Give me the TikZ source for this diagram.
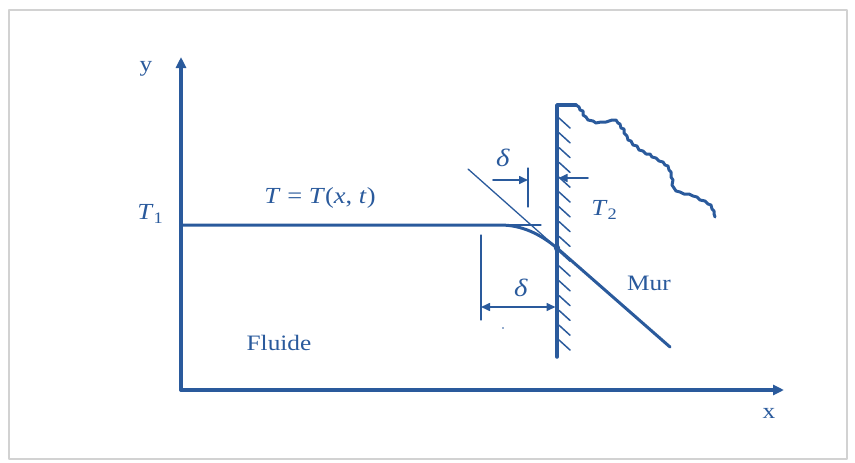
\documentclass[tikz,border=0pt]{standalone}
\usepackage{fontspec}
\setmainfont{Liberation Serif}[FakeStretch=1.15]
\usetikzlibrary{arrows.meta}
\definecolor{ink}{RGB}{42,90,156}
\tikzset{smalltri/.tip={Triangle[length=9pt,width=8pt]}}
\begin{document}
\begin{tikzpicture}[x=1pt,y=-1pt, line cap=round, line join=round,
  axis/.style={ink, line width=3.5pt, -{Triangle[length=11pt,width=10pt]}},
  thinln/.style={ink, line width=1.3pt},
  dimarrow/.style={ink, line width=1.6pt},
  thick profile/.style={ink, line width=3pt},
  hatch/.style={ink, line width=1.5pt},
  lbl/.style={text=ink, inner sep=0pt, font=\fontsize{22}{26}\selectfont},
  ]
\useasboundingbox (0,0) rectangle (855,463);
\draw[gray!35, line width=2pt] (9,10) rectangle (847,459);

% axes
\coordinate (O) at (181,390);
\coordinate (Ytip) at (181,57);
\coordinate (Xtip) at (784,390);
\draw[axis] (O) -- (Ytip);
\draw[axis] (O) -- (Xtip);
\node[lbl] (ylab) at (146,69) {y};
\node[lbl] (xlab) at (769,413) {x};

% wall
\coordinate (Wtop) at (557,105);
\coordinate (Wbot) at (557,357);
\coordinate (Wp) at (557,248);
\coordinate (Wc) at (576,105);
\draw[ink, line width=3.5pt] (Wbot) -- (Wtop) -- (Wc);
\draw[ink, line width=3pt] (Wc) -- (579,107) -- (580,110) -- (583,111) -- (583,115) -- (586,117) -- (588,120)
  -- (593,121) -- (596,123) -- (601,122) -- (606,122) -- (612,120) -- (616,120) -- (618,123) -- (620,124)
  -- (621,128) -- (624,129) -- (624,133) -- (627,136) -- (628,140) -- (631,141) -- (633,145) -- (637,146)
  -- (639,150) -- (643,151) -- (646,154) -- (650,154) -- (652,157) -- (656,158) -- (659,161) -- (663,162)
  -- (665,165) -- (668,166) -- (669,170) -- (671,172) -- (671,177) -- (673,180) -- (672,185) -- (674,188)
  -- (676,191) -- (680,192) -- (684,194) -- (689,194) -- (693,196) -- (697,197) -- (700,200) -- (705,201)
  -- (708,204) -- (711,205) -- (712,209) -- (714,211) -- (714,214) -- (715,217);
\foreach \k in {0,...,15}
  \draw[hatch] (559,{118+14.8*\k}) -- ++(11,10);

% temperature profile
\coordinate (T1y) at (181,225);
\coordinate (A) at (500,225);
\coordinate (Hend) at (541,225);
\coordinate (Mend) at (670,347);
\coordinate (Tg) at (468,169);
\draw[thick profile] (T1y) -- (A) .. controls (522,225) and (540,234) .. (Wp);
\draw[thick profile] (Wp) -- (Mend);
\fill[ink] (Wp) circle (3.2pt);
\draw[thinln] (Tg) -- (Wp);
\draw[thinln] (A) -- (Hend);

% upper delta
\coordinate (Ut) at (528,168);
\coordinate (Ub) at (528,207);
\coordinate (Ua) at (493,180);
\coordinate (Ui) at (528,180);
\draw[thinln] (Ut) -- (Ub);
\draw[dimarrow, -{smalltri}] (Ua) -- (Ui);
\coordinate (Ra) at (588,178);
\coordinate (Ri) at (558.5,178);
\draw[dimarrow, -{smalltri}] (Ra) -- (Ri);
\node[lbl, font=\fontsize{25}{29}\selectfont] (d1) at (503,158) {\textit{δ}};
\node[lbl, font=\fontsize{23}{27}\selectfont] (T2) at (604,210) {\textit{T}\raisebox{-4pt}{\fontsize{16}{17}\selectfont 2}};

% lower delta
\coordinate (Lt) at (481,235);
\coordinate (Lb) at (481,320);
\coordinate (La) at (481,307);
\coordinate (Li) at (555.5,307);
\draw[thinln] (Lt) -- (Lb);
\draw[dimarrow, {smalltri}-{smalltri}] (La) -- (Li);
\node[lbl, font=\fontsize{25}{29}\selectfont] (d2) at (521,288) {\textit{δ}};
\fill[ink] (503,328) circle (0.9pt);

% labels
\node[lbl, font=\fontsize{23}{27}\selectfont] (T1) at (150,214) {\textit{T}\raisebox{-4pt}{\fontsize{16}{17}\selectfont 1}};
\node[lbl, font=\fontsize{23}{27}\selectfont] (eq) at (320,198) {\textit{T} = \textit{T}(\textit{x}, \textit{t})};
\node[lbl] (mur) at (649,283) {Mur};
\node[lbl] (fl) at (279,343) {Fluide};
\end{tikzpicture}
\end{document}
